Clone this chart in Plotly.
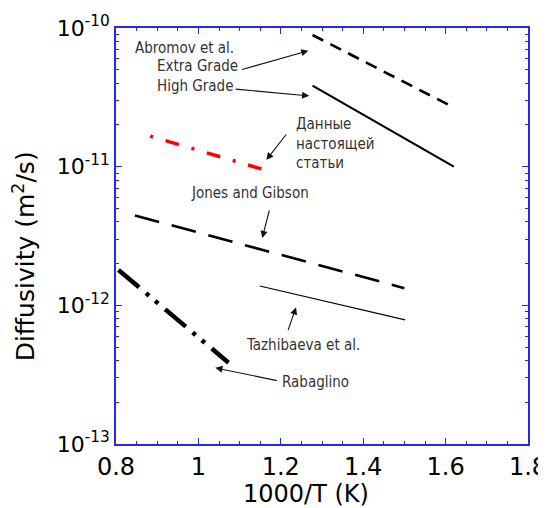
import math
import plotly.graph_objects as go

# ---- data ----
extra_x = [1.277, 1.619]
extra_y = [8.9e-11, 2.68e-11]
high_x = [1.277, 1.620]
high_y = [3.84e-11, 1.0e-11]
present_x = [0.883, 1.162]
present_y = [1.66e-11, 9.46e-12]
jones_x = [0.846, 1.50]
jones_y = [4.45e-12, 1.33e-12]
tazh_x = [1.149, 1.502]
tazh_y = [1.38e-12, 7.85e-13]
rab_x = [0.806, 1.073]
rab_y = [1.8e-12, 3.86e-13]

x_ticks = [0.8, 1.0, 1.2, 1.4, 1.6, 1.8]
x_tick_labels = ["0.8", "1", "1.2", "1.4", "1.6", "1.8"]
y_ticks = [1e-13, 1e-12, 1e-11, 1e-10]
y_tick_labels = ["10<sup>-13</sup>", "10<sup>-12</sup>", "10<sup>-11</sup>", "10<sup>-10</sup>"]
y_minor = [m * 10.0 ** e for e in (-13, -12, -11) for m in range(2, 10)]

FONT = "DejaVu Sans, Verdana, sans-serif"
AFONT = "DejaVu Sans Condensed, DejaVu Sans, sans-serif"
BLUE = "rgb(40,40,235)"

fig = go.Figure()
fig.add_trace(go.Scatter(x=extra_x, y=extra_y, mode="lines",
                         line=dict(color="black", width=2.6, dash="12px,8px")))
fig.add_trace(go.Scatter(x=high_x, y=high_y, mode="lines",
                         line=dict(color="black", width=2.2)))
fig.add_trace(go.Scatter(x=present_x, y=present_y, mode="lines",
                         line=dict(color="red", width=3.5, dash="3px,13px,14px,13px")))
fig.add_trace(go.Scatter(x=jones_x, y=jones_y, mode="lines",
                         line=dict(color="black", width=2.6, dash="25px,13px")))
fig.add_trace(go.Scatter(x=tazh_x, y=tazh_y, mode="lines",
                         line=dict(color="black", width=1.1)))
fig.add_trace(go.Scatter(x=rab_x, y=rab_y, mode="lines",
                         line=dict(color="black", width=4.5, dash="27px,9px,4px,8px,4px,9px")))

ann_font = dict(family=AFONT, size=15, color="#333333")
texts = [
    ("Abromov et al.", 0.842, 7.18e-11),
    ("Extra Grade", 0.895, 5.28e-11),
    ("High Grade", 0.895, 3.82e-11),
    ("Данные<br>настоящей<br>статьи", 1.233, 1.48e-11),
    ("Jones and Gibson", 0.978, 6.46e-12),
    ("Tazhibaeva et al.", 1.111, 5.19e-13),
    ("Rabaglino", 1.197, 2.82e-13),
]
annotations = []
for t, x, y in texts:
    annotations.append(dict(text=t, x=x, y=math.log10(y), xref="x", yref="y", showarrow=False,
                            xanchor="left", yanchor="middle", align="left", font=ann_font))

arrows = [
    ((1.102, 4.98e-11), (1.267, 6.86e-11)),
    ((1.087, 3.63e-11), (1.269, 3.24e-11)),
    ((1.216, 1.75e-11), (1.165, 1.12e-11)),
    ((1.173, 4.95e-12), (1.155, 3.06e-12)),
    ((1.2165, 6.46e-13), (1.237, 9.68e-13)),
    ((1.194, 2.85e-13), (1.041, 3.54e-13)),
]
for (tx, ty), (hx, hy) in arrows:
    annotations.append(dict(text="", x=hx, y=math.log10(hy), xref="x", yref="y",
                            ax=tx, ay=math.log10(ty), axref="x", ayref="y",
                            showarrow=True, arrowhead=2, arrowsize=1.3, arrowwidth=1.1,
                            arrowcolor="#111111", standoff=0, startstandoff=0))

annotations.append(dict(text="Diffusivity (m<sup>2</sup>/s)", xref="paper", yref="paper",
                        x=-0.222, y=0.45, textangle=-90, showarrow=False,
                        xanchor="center", yanchor="middle",
                        font=dict(family=FONT, size=25, color="black")))
annotations.append(dict(text="1000/T (K)", xref="paper", yref="paper",
                        x=0.462, y=-0.120, showarrow=False,
                        xanchor="center", yanchor="middle",
                        font=dict(family=FONT, size=24, color="black")))

# the page adds an 8px body margin, so the figure is 8px smaller than the window
fig.update_layout(
    width=538, height=500,
    margin=dict(l=108, r=18, t=20, b=64, autoexpand=False),
    paper_bgcolor="white", plot_bgcolor="white",
    showlegend=False,
    annotations=annotations,
    xaxis=dict(range=[0.8, 1.8], tickmode="array", tickvals=x_ticks, ticktext=x_tick_labels,
               ticks="inside", ticklen=6, tickwidth=1.3, tickcolor=BLUE, automargin=False,
               ticklabeloverflow="allow",
               showline=True, linecolor=BLUE, linewidth=1.5, mirror="ticks",
               showgrid=False, zeroline=False,
               tickfont=dict(family=FONT, size=24, color="black"),
               minor=dict(tickmode="linear", tick0=0.8, dtick=0.05, ticks="inside",
                          ticklen=3.5, tickwidth=1.2, tickcolor=BLUE, showgrid=False)),
    yaxis=dict(type="log", range=[-13, -10], tickmode="array", tickvals=y_ticks,
               ticktext=y_tick_labels, automargin=False, ticklabeloverflow="allow",
               ticks="inside", ticklen=6, tickwidth=1.3, tickcolor=BLUE,
               showline=True, linecolor=BLUE, linewidth=1.5, mirror="ticks",
               showgrid=False, zeroline=False,
               tickfont=dict(family=FONT, size=22, color="black"),
               minor=dict(tickmode="array", tickvals=y_minor, ticks="inside",
                          ticklen=3.5, tickwidth=1.2, tickcolor=BLUE, showgrid=False)),
)

fig.write_html("out.html")
